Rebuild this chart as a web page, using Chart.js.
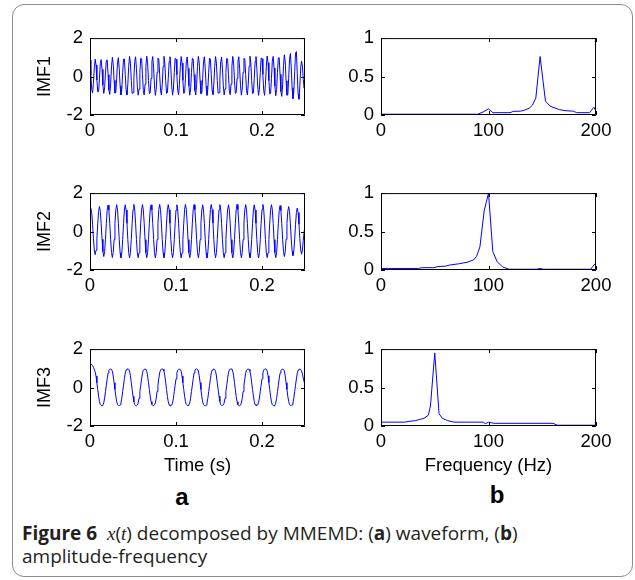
<!DOCTYPE html>
<html><head><meta charset="utf-8">
<script src="https://cdn.jsdelivr.net/npm/chart.js@4.4.1/dist/chart.umd.min.js"></script>
<style>
html,body{margin:0;padding:0;background:#fff;}
body{width:635px;height:580px;position:relative;overflow:hidden;}
.box{position:absolute;left:12px;top:4px;width:621px;height:573px;border:1.5px solid #8c8c8c;border-radius:12px;box-sizing:border-box;}
canvas{position:absolute;}
.lab{position:absolute;font-family:'Liberation Sans',Arial,sans-serif;font-weight:bold;font-size:24px;color:#000;transform:translate(-50%,-50%);line-height:1;}
.cap{position:absolute;left:22px;top:522px;font-family:'Open Sans',sans-serif;font-size:19px;line-height:23px;color:#231f20;white-space:nowrap;}
.cap i{font-family:'Liberation Serif',serif;}
</style></head><body>
<div class="box"></div>
<canvas id="c0" width="320" height="125" style="left:0;top:20px"></canvas>
<canvas id="c1" width="315" height="125" style="left:320px;top:20px"></canvas>
<canvas id="c2" width="320" height="125" style="left:0;top:175px"></canvas>
<canvas id="c3" width="315" height="125" style="left:320px;top:175px"></canvas>
<canvas id="c4" width="320" height="146" style="left:0;top:331px"></canvas>
<canvas id="c5" width="315" height="146" style="left:320px;top:331px"></canvas>
<div class="lab" style="left:182px;top:497px">a</div>
<div class="lab" style="left:497px;top:495px">b</div>
<div class="cap"><b>Figure 6</b>&nbsp; <i>x</i>(<i>t</i>) decomposed by MMEMD: (<b>a</b>) waveform, (<b>b</b>)<br>amplitude-frequency</div>
<script>
// sampling interval of the waveforms (s)
const dt = 0.001;
const timeTicks = [0, 0.1, 0.2];
const freqTicks = [0, 100, 200];
const imfTicks = [-2, 0, 2];
const ampTicks = [0, 0.5, 1];
const imfNames = ['IMF1', 'IMF2', 'IMF3'];

const imf1 = [
0.85,0.09,-0.65,-0.86,-0.36,0.45,0.90,0.60,-0.18,-0.80,-0.77,-0.09,0.67,0.88,0.37,-0.44,-0.88,-0.59,0.19,0.82,
0.87,0.10,-0.70,-0.93,-0.39,0.50,1.00,0.67,-0.20,-0.86,-0.83,-0.10,0.74,0.98,0.41,-0.48,-0.95,-0.64,0.21,0.91,
0.91,0.11,-0.72,-0.95,-0.40,0.53,1.05,0.70,-0.20,-0.88,-0.84,-0.10,0.78,1.03,0.43,-0.49,-0.97,-0.65,0.22,0.96,
0.92,0.11,-0.73,-0.96,-0.40,0.53,1.06,0.71,-0.21,-0.89,-0.85,-0.10,0.78,1.04,0.43,-0.49,-0.98,-0.66,0.22,0.96,
0.91,0.10,-0.72,-0.95,-0.40,0.52,1.05,0.70,-0.20,-0.88,-0.84,-0.10,0.77,1.03,0.43,-0.48,-0.97,-0.65,0.22,0.95,
0.90,0.10,-0.72,-0.95,-0.40,0.52,1.04,0.70,-0.20,-0.88,-0.84,-0.10,0.77,1.02,0.43,-0.48,-0.97,-0.65,0.22,0.95,
0.91,0.11,-0.73,-0.96,-0.40,0.53,1.05,0.70,-0.21,-0.89,-0.85,-0.10,0.78,1.03,0.43,-0.49,-0.98,-0.66,0.22,0.96,
0.90,0.10,-0.71,-0.94,-0.39,0.52,1.04,0.70,-0.20,-0.87,-0.84,-0.10,0.77,1.02,0.43,-0.48,-0.96,-0.64,0.22,0.95,
0.91,0.10,-0.72,-0.95,-0.40,0.52,1.05,0.70,-0.20,-0.88,-0.84,-0.10,0.77,1.03,0.43,-0.48,-0.97,-0.65,0.22,0.95,
0.92,0.11,-0.73,-0.96,-0.40,0.53,1.06,0.71,-0.21,-0.89,-0.85,-0.10,0.78,1.04,0.43,-0.49,-0.98,-0.66,0.22,0.96,
0.93,0.11,-0.74,-0.98,-0.41,0.54,1.07,0.72,-0.21,-0.91,-0.87,-0.10,0.79,1.05,0.44,-0.50,-1.00,-0.67,0.22,0.97,
0.98,0.12,-0.78,-1.03,-0.43,0.57,1.13,0.76,-0.22,-0.97,-0.95,-0.11,0.90,1.20,0.50,-0.58,-1.15,-0.77,0.26,1.22,
1.30,0.15,-0.90,-1.18,-0.50,0.48,0.80,0.55,-0.15,-0.60,-0.35
];

const imf2 = [
1.14,1.20,0.97,0.37,-0.37,-0.97,-1.20,-0.97,-0.37,0.40,
1.05,1.30,1.05,0.40,-0.40,-1.05,-1.30,-1.05,-0.40,0.42,
1.12,1.38,1.12,0.43,-0.42,-1.09,-1.35,-1.09,-0.42,0.43,
1.13,1.40,1.13,0.43,-0.42,-1.10,-1.36,-1.10,-0.42,0.43,
1.12,1.39,1.12,0.43,-0.42,-1.10,-1.37,-1.10,-0.42,0.43,
1.14,1.41,1.14,0.44,-0.42,-1.10,-1.36,-1.10,-0.42,0.44,
1.13,1.40,1.13,0.43,-0.42,-1.10,-1.36,-1.10,-0.42,0.43,
1.12,1.39,1.12,0.43,-0.42,-1.10,-1.37,-1.10,-0.42,0.43,
1.14,1.41,1.14,0.44,-0.42,-1.10,-1.36,-1.10,-0.42,0.44,
1.13,1.40,1.13,0.43,-0.42,-1.10,-1.36,-1.10,-0.42,0.43,
1.12,1.39,1.12,0.43,-0.42,-1.10,-1.37,-1.10,-0.42,0.43,
1.14,1.41,1.14,0.44,-0.42,-1.10,-1.36,-1.10,-0.42,0.44,
1.13,1.40,1.13,0.43,-0.42,-1.10,-1.36,-1.10,-0.42,0.43,
1.12,1.39,1.12,0.43,-0.42,-1.10,-1.37,-1.10,-0.42,0.43,
1.14,1.41,1.14,0.44,-0.42,-1.10,-1.36,-1.10,-0.42,0.44,
1.13,1.40,1.13,0.43,-0.42,-1.10,-1.36,-1.10,-0.42,0.43,
1.12,1.39,1.12,0.43,-0.42,-1.10,-1.37,-1.10,-0.42,0.43,
1.14,1.41,1.14,0.44,-0.42,-1.10,-1.36,-1.10,-0.42,0.44,
1.13,1.40,1.13,0.43,-0.42,-1.10,-1.36,-1.10,-0.42,0.43,
1.12,1.39,1.12,0.43,-0.42,-1.10,-1.37,-1.10,-0.42,0.43,
1.14,1.41,1.14,0.44,-0.42,-1.10,-1.36,-1.10,-0.42,0.44,
1.13,1.40,1.13,0.43,-0.42,-1.10,-1.36,-1.10,-0.42,0.43,
1.09,1.35,1.09,0.42,-0.40,-1.05,-1.30,-1.05,-0.40,0.41,
1.05,1.30,1.05,0.40,-0.39,-1.01,-1.25,-1.01,-0.39,0.38,
0.99,1.22,0.99,0.38,-0.37,-0.96,-1.18,-0.96,-0.45,0.00,
0.25
];

const imf3 = [
1.18,1.22,1.20,1.15,1.05,0.95,0.82,0.60,0.25,-0.10,-0.45,-0.73,-0.88,-0.93,-0.93,-0.90,-0.80,-0.55,-0.20,0.12,
0.45,0.75,0.90,0.95,0.96,0.94,0.85,0.60,0.25,-0.10,-0.45,-0.73,-0.88,-0.93,-0.93,-0.90,-0.80,-0.55,-0.20,0.12,
0.46,0.76,0.91,0.96,0.97,0.95,0.86,0.61,0.26,-0.10,-0.46,-0.74,-0.89,-0.94,-0.95,-0.91,-0.81,-0.56,-0.21,0.12,
0.45,0.75,0.90,0.95,0.96,0.94,0.85,0.60,0.25,-0.10,-0.45,-0.73,-0.88,-0.93,-0.93,-0.90,-0.80,-0.55,-0.20,0.12,
0.46,0.76,0.91,0.96,0.97,0.95,0.86,0.61,0.26,-0.10,-0.46,-0.74,-0.89,-0.94,-0.95,-0.91,-0.81,-0.56,-0.21,0.12,
0.45,0.75,0.90,0.95,0.96,0.94,0.85,0.60,0.25,-0.10,-0.45,-0.73,-0.88,-0.93,-0.93,-0.90,-0.80,-0.55,-0.20,0.12,
0.46,0.76,0.91,0.96,0.97,0.95,0.86,0.61,0.26,-0.10,-0.46,-0.74,-0.89,-0.94,-0.95,-0.91,-0.81,-0.56,-0.21,0.12,
0.45,0.75,0.90,0.95,0.96,0.94,0.85,0.60,0.25,-0.10,-0.45,-0.73,-0.88,-0.93,-0.93,-0.90,-0.80,-0.55,-0.20,0.12,
0.46,0.76,0.91,0.96,0.97,0.95,0.86,0.61,0.26,-0.10,-0.46,-0.74,-0.89,-0.94,-0.95,-0.91,-0.81,-0.56,-0.21,0.12,
0.45,0.75,0.90,0.95,0.96,0.94,0.85,0.60,0.25,-0.10,-0.45,-0.73,-0.88,-0.93,-0.93,-0.90,-0.80,-0.55,-0.20,0.12,
0.46,0.76,0.91,0.96,0.97,0.95,0.86,0.61,0.26,-0.10,-0.46,-0.74,-0.89,-0.94,-0.95,-0.91,-0.81,-0.56,-0.21,0.12,
0.45,0.75,0.90,0.95,0.96,0.94,0.85,0.60,0.25,-0.10,-0.45,-0.73,-0.88,-0.93,-0.93,-0.90,-0.80,-0.55,-0.20,0.12,
0.45,0.75,0.90,0.95,0.96,0.94,0.85,0.70,0.50,0.30,0.10
];

// amplitude spectra: frequency (Hz) and normalised amplitude
const freq1 = [0,90,95,100,104,120,123,130,134,138,141,144,148,153,157,160,166,172,179,182,194,198,200];
const amp1  = [0.01,0.01,0.04,0.08,0.03,0.03,0.047,0.05,0.065,0.09,0.13,0.22,0.76,0.18,0.12,0.10,0.07,0.055,0.05,0.03,0.03,0.10,0.05];
const freq2 = [0,35,38,49,53,60,64,72,80,86,89,92,96,100,104,108,113,119,145,148,151,195,199,200];
const amp2  = [0.02,0.02,0.03,0.03,0.045,0.05,0.065,0.08,0.10,0.13,0.18,0.30,0.77,1.00,0.24,0.11,0.04,0.01,0.01,0.02,0.01,0.01,0.08,0.06];
const freq3 = [0,22,26,32,36,40,44,46,50,54,57,62,68,95,97,100,103,106,160,164,200];
const amp3  = [0.05,0.05,0.06,0.07,0.085,0.10,0.14,0.26,0.95,0.16,0.10,0.07,0.05,0.05,0.03,0.05,0.04,0.035,0.035,0.01,0.01];

Chart.defaults.font.family = "'Liberation Sans', Arial, sans-serif";
Chart.defaults.color = '#000';

const framePlugin = {
  id: 'frame',
  afterDatasetsDraw(chart) {
    const {ctx, chartArea: a, scales: {x, y}} = chart;
    ctx.save();
    ctx.strokeStyle = '#000';
    ctx.lineWidth = 1;
    ctx.beginPath();
    ctx.rect(a.left + 0.5, a.top + 0.5, a.right - a.left - 1, a.bottom - a.top - 1);
    const L = 4;
    x.ticks.forEach(t => {
      const p = Math.round(x.getPixelForValue(t.value)) + 0.5;
      ctx.moveTo(p, a.bottom); ctx.lineTo(p, a.bottom - L);
      ctx.moveTo(p, a.top); ctx.lineTo(p, a.top + L);
    });
    y.ticks.forEach(t => {
      const p = Math.round(y.getPixelForValue(t.value)) + 0.5;
      ctx.moveTo(a.left, p); ctx.lineTo(a.left + L, p);
      ctx.moveTo(a.right, p); ctx.lineTo(a.right - L, p);
    });
    ctx.stroke();
    ctx.restore();
  }
};

function makeChart(id, pts, cfg) {
  new Chart(document.getElementById(id), {
    type: 'line',
    data: { datasets: [{ data: pts, borderColor: '#0000ff', borderWidth: 1, pointRadius: 0, tension: 0, fill: false }] },
    options: {
      responsive: false, animation: false, devicePixelRatio: 1,
      layout: { padding: { top: 12, left: 0, right: cfg.padRight, bottom: 0 }, autoPadding: false },
      plugins: { legend: { display: false }, tooltip: { enabled: false } },
      scales: {
        x: {
          type: 'linear', min: 0, max: cfg.xMax,
          grid: { display: false, drawTicks: false }, border: { display: false },
          ticks: { padding: 5, font: { size: 18.5 }, maxRotation: 0, autoSkip: false, callback: v => String(v) },
          afterBuildTicks: s => { s.ticks = cfg.xTicks.map(v => ({ value: v })); },
          afterFit: s => { s.height = cfg.xTitle ? 51 : 30; },
          title: { display: !!cfg.xTitle, text: cfg.xTitle || '', font: { size: 18.5 }, padding: { top: 0, bottom: 0 } }
        },
        y: {
          type: 'linear', min: cfg.yTicks[0], max: cfg.yTicks[cfg.yTicks.length - 1],
          grid: { display: false, drawTicks: false }, border: { display: false },
          ticks: { padding: 7, font: { size: 18.5 }, autoSkip: false, callback: v => String(v) },
          afterBuildTicks: s => { s.ticks = cfg.yTicks.map(v => ({ value: v })); },
          afterFit: s => { s.width = cfg.yWidth; },
          title: { display: !!cfg.yTitle, text: cfg.yTitle || '', font: { size: 18 }, padding: { top: 34, bottom: 0 } }
        }
      }
    },
    plugins: [framePlugin]
  });
}

const imfs = [imf1, imf2, imf3];
const spectra = [[freq1, amp1], [freq2, amp2], [freq3, amp3]];
for (let r = 0; r < 3; r++) {
  const w = imfs[r];
  makeChart('c' + (2 * r), w.map((v, i) => ({ x: i * dt, y: v })), {
    xMax: 0.25, xTicks: timeTicks, yTicks: imfTicks, yWidth: 90, padRight: 15,
    yTitle: imfNames[r], xTitle: r === 2 ? 'Time (s)' : null
  });
  const [f, a] = spectra[r];
  makeChart('c' + (2 * r + 1), f.map((v, i) => ({ x: v, y: a[i] })), {
    xMax: 200, xTicks: freqTicks, yTicks: ampTicks, yWidth: 61, padRight: 39,
    yTitle: null, xTitle: r === 2 ? 'Frequency (Hz)' : null
  });
}
</script>
</body></html>
